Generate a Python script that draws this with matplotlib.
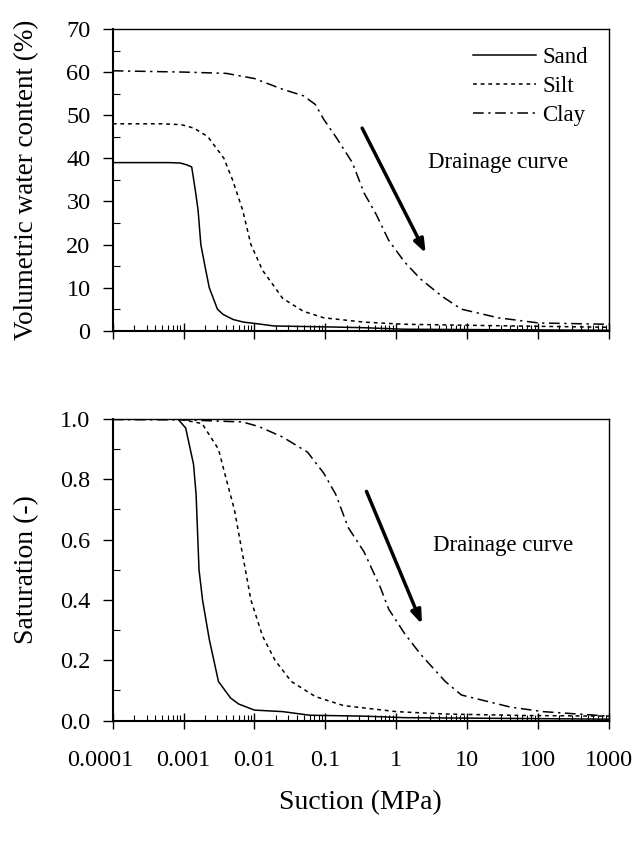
import matplotlib
matplotlib.use("Agg")
import matplotlib.pyplot as plt
from matplotlib.ticker import LogLocator, MultipleLocator, FixedLocator, NullFormatter, FixedFormatter
from matplotlib.transforms import ScaledTranslation

plt.rcParams['font.family'] = ['Liberation Serif', 'DejaVu Serif']

# ---- data (suction in MPa) ----
sand_s_x = [1e-4, 6.3e-4, 9e-4, 1.1e-3, 1.3e-3, 1.45e-3, 1.6e-3, 1.75e-3, 2.0e-3, 2.3e-3, 3.0e-3, 3.6e-3, 5.0e-3, 7.0e-3, 1.0e-2, 1.9e-2, 0.1, 0.35, 1.3, 1000]
sand_theta = [39.0, 39.0, 38.9, 38.5, 38.0, 33.0, 28.0, 20.0, 15.0, 10.0, 5.0, 3.8, 2.6, 2.0, 1.7, 1.1, 0.9, 0.7, 0.35, 0.1]

silt_s_x = [1e-4, 5e-4, 9.3e-4, 1.4e-3, 2.2e-3, 3.7e-3, 4.9e-3, 6.8e-3, 8.9e-3, 1.3e-2, 1.95e-2, 2.5e-2, 4.9e-2, 9.5e-2, 0.35, 1.3, 18.6, 1000]
silt_theta = [48.0, 48.0, 47.8, 47.0, 45.0, 40.0, 35.0, 28.0, 20.0, 14.0, 10.0, 7.5, 4.5, 3.0, 2.0, 1.5, 1.2, 0.8]

clay_s_x = [1e-4, 1e-3, 4e-3, 1e-2, 2.5e-2, 4.9e-2, 7.2e-2, 9.5e-2, 0.14, 0.24, 0.35, 0.52, 0.78, 1.3, 2.2, 4.4, 8.3, 27.5, 102, 1000]
clay_theta = [60.3, 60.0, 59.7, 58.5, 56.0, 54.5, 52.5, 49.0, 45.0, 39.0, 32.0, 27.0, 21.0, 16.0, 12.0, 8.0, 5.0, 3.0, 1.8, 1.5]

sand_sat_x = [1e-4, 8.3e-4, 1.07e-3, 1.38e-3, 1.5e-3, 1.65e-3, 1.85e-3, 2.3e-3, 3.1e-3, 4.6e-3, 6.0e-3, 1.0e-2, 2.5e-2, 6.0e-2, 0.35, 1.3, 1000]
sand_sat = [1.0, 1.0, 0.97, 0.85, 0.75, 0.50, 0.40, 0.27, 0.13, 0.075, 0.055, 0.035, 0.03, 0.018, 0.015, 0.01, 0.005]

silt_sat_x = [1e-4, 8.3e-4, 1.82e-3, 3.1e-3, 4.0e-3, 5.2e-3, 6.8e-3, 8.9e-3, 1.3e-2, 1.95e-2, 3.3e-2, 7.2e-2, 0.18, 1.0, 4.9, 69, 1000]
silt_sat = [1.0, 1.0, 0.985, 0.90, 0.80, 0.70, 0.55, 0.40, 0.28, 0.20, 0.13, 0.08, 0.05, 0.03, 0.022, 0.017, 0.015]

clay_sat_x = [1e-4, 1.07e-3, 6.8e-3, 1.15e-2, 2.5e-2, 5.6e-2, 9.5e-2, 0.14, 0.21, 0.35, 0.6, 0.78, 1.3, 2.2, 4.9, 8.3, 40.7, 117, 1000]
clay_sat = [0.998, 0.997, 0.99, 0.975, 0.94, 0.89, 0.82, 0.75, 0.64, 0.56, 0.44, 0.37, 0.29, 0.22, 0.13, 0.085, 0.045, 0.03, 0.015]

labels = ['Sand', 'Silt', 'Clay']
xtick_vals = [1e-4, 1e-3, 1e-2, 1e-1, 1, 10, 100, 1000]
xtick_labels = ['0.0001', '0.001', '0.01', '0.1', '1', '10', '100', '1000']

arrow_top = [(0.33, 47.0), (2.6, 18.0)]
arrow_bot = [(0.38, 0.76), (2.3, 0.32)]
text_top = (27.0, 39.0)
text_bot = (32.0, 0.58)

# ---- styles ----
lw = 1.1
sty = {'Sand': dict(color='black', lw=lw, linestyle='-'),
       'Silt': dict(color='black', lw=lw, linestyle=(0, (2.5, 2.5))),
       'Clay': dict(color='black', lw=lw, linestyle=(0, (7, 3, 1.5, 3)))}

fig = plt.figure(figsize=(6.35, 8.42), dpi=100)
ax1 = fig.add_axes([0.1775, 0.6072, 0.7815, 0.3584])
ax2 = fig.add_axes([0.1775, 0.1441, 0.7815, 0.3583])

ax1.plot(sand_s_x, sand_theta, label=labels[0], **sty['Sand'])
ax1.plot(silt_s_x, silt_theta, label=labels[1], **sty['Silt'])
ax1.plot(clay_s_x, clay_theta, label=labels[2], **sty['Clay'])

ax2.plot(sand_sat_x, sand_sat, **sty['Sand'])
ax2.plot(silt_sat_x, silt_sat, **sty['Silt'])
ax2.plot(clay_sat_x, clay_sat, **sty['Clay'])

for ax in (ax1, ax2):
    ax.set_xscale('log')
    ax.set_xlim(1e-4, 1000)
    ax.xaxis.set_major_locator(FixedLocator(xtick_vals))
    ax.xaxis.set_minor_locator(LogLocator(base=10, subs=range(2, 10), numticks=20))
    ax.xaxis.set_minor_formatter(NullFormatter())
    ax.tick_params(axis='x', which='major', direction='inout', length=12, width=1.0, pad=15, labelsize=17.5)
    ax.tick_params(axis='x', which='minor', direction='in', length=4.5, width=0.8)
    ax.tick_params(axis='y', which='major', direction='out', length=7, width=1.0, pad=9, labelsize=17.5)
    ax.tick_params(axis='y', which='minor', direction='in', length=5, width=0.8)
    for sp in ax.spines.values():
        sp.set_linewidth(1.0)
    ax.spines['left'].set_linewidth(1.5)
    ax.spines['bottom'].set_linewidth(1.5)

ax1.set_ylim(0, 70)
ax1.yaxis.set_major_locator(MultipleLocator(10))
ax1.yaxis.set_minor_locator(MultipleLocator(5))
ax1.set_xticklabels([])
ax1.set_ylabel('Volumetric water content (%)', fontsize=19.5)

ax2.set_ylim(0, 1.0)
ax2.yaxis.set_major_locator(MultipleLocator(0.2))
ax2.yaxis.set_minor_locator(MultipleLocator(0.1))
ax2.yaxis.set_major_formatter(plt.FuncFormatter(lambda v, p: f'{v:.1f}'))
ax2.xaxis.set_major_formatter(FixedFormatter(xtick_labels))
ax2.set_ylabel('Saturation (-)', fontsize=20)
ax2.set_xlabel('Suction (MPa)', fontsize=20, labelpad=14)

ax1.yaxis.set_label_coords(-0.148, 0.5)
ax2.yaxis.set_label_coords(-0.148, 0.5)

ax1.legend(loc='upper right', bbox_to_anchor=(0.985, 0.985), frameon=False, fontsize=16.5,
           handlelength=2.75, handletextpad=0.25, labelspacing=0.35, borderaxespad=0.2)

for ax, arr, tp in ((ax1, arrow_top, text_top), (ax2, arrow_bot, text_bot)):
    ax.annotate('', xy=arr[1], xytext=arr[0],
                arrowprops=dict(arrowstyle='-|>,head_length=0.8,head_width=0.3', lw=2.5,
                                color='black', shrinkA=0, shrinkB=0))
    ax.text(tp[0], tp[1], 'Drainage curve', fontsize=16.5, ha='center', va='center')

# first x tick label sits slightly left of its tick in the reference
fig.canvas.draw()
lab0 = ax2.get_xticklabels()[0]
lab0.set_transform(lab0.get_transform() + ScaledTranslation(-0.12, 0, fig.dpi_scale_trans))

fig.savefig('out.png', dpi=100)
